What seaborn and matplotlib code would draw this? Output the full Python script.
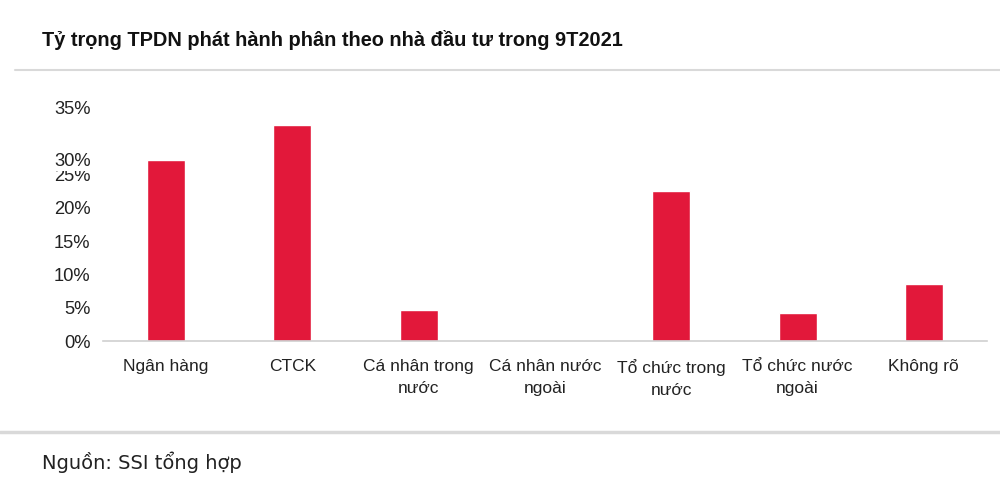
import matplotlib
matplotlib.use("Agg")
import matplotlib.pyplot as plt
from matplotlib.lines import Line2D
from matplotlib import font_manager
import seaborn as sns
import pandas as pd

categories = ["Ngân hàng", "CTCK", "Cá nhân trong\nnước", "Cá nhân nước\nngoài",
              "Tổ chức trong\nnước", "Tổ chức nước\nngoài", "Không rõ"]
shares = [27.2, 32.4, 4.6, 0.0, 22.5, 4.2, 8.5]
ytick_values = [0, 5, 10, 15, 20, 25, 27.2, 35]
ytick_labels = ["0%", "5%", "10%", "15%", "20%", "25%", "30%", "35%"]
title = "Tỷ trọng TPDN phát hành phân theo nhà đầu tư trong 9T2021"
source = "Nguồn: SSI tổng hợp"

sns.set_theme(style="white")
avail = {f.name for f in font_manager.fontManager.ttflist}
narrow = "Liberation Sans Narrow" if "Liberation Sans Narrow" in avail else "Liberation Sans"
plt.rcParams["font.family"] = ["Liberation Sans", "DejaVu Sans"]

df = pd.DataFrame({"cat": categories, "val": shares})

fig = plt.figure(figsize=(10, 4.94), dpi=100)
ax = fig.add_axes([0.103, 0.3097, 0.884, 0.4717])
sns.barplot(data=df, x="cat", y="val", color="#E2183A", saturation=1, width=0.3, ax=ax)

ax.set_ylim(0, 35)
ax.set_xlim(-0.5, len(categories) - 0.5)
ax.set_yticks(ytick_values)
ax.set_yticklabels(ytick_labels, fontsize=13.2, family=[narrow, "DejaVu Sans"], color="#222222")
ax.set_xticks(range(len(categories)))
ax.set_xticklabels(categories, fontsize=12.5, family=[narrow, "DejaVu Sans"], color="#222222",
                   linespacing=1.55, va="top")
ax.tick_params(axis="y", length=0, pad=9)
ax.tick_params(axis="x", length=0, pad=13)
for lbl in ax.get_yticklabels():
    if lbl.get_text() == "30%":
        lbl.set_bbox(dict(facecolor="white", edgecolor="none", pad=0.5))
ax.set_xlabel("")
ax.set_ylabel("")
for s in ["top", "right", "left"]:
    ax.spines[s].set_visible(False)
ax.spines["bottom"].set_color("#d0d0d0")
ax.spines["bottom"].set_linewidth(1.2)
ax.grid(False)

fig.text(0.042, 0.919, title, fontsize=14.4, fontweight="bold", color="#111111",
         ha="left", va="center", family=["Liberation Sans", "DejaVu Sans"])
fig.text(0.042, 0.065, source, fontsize=14, color="#222222", ha="left", va="center",
         family=["DejaVu Sans"])
fig.add_artist(Line2D([0.015, 1.0], [0.858, 0.858], transform=fig.transFigure,
                      color="#d9d9d9", linewidth=1.5))
fig.add_artist(Line2D([0.0, 1.0], [0.125, 0.125], transform=fig.transFigure,
                      color="#d9d9d9", linewidth=2.5))

fig.savefig("out.png", dpi=100, facecolor="white")
